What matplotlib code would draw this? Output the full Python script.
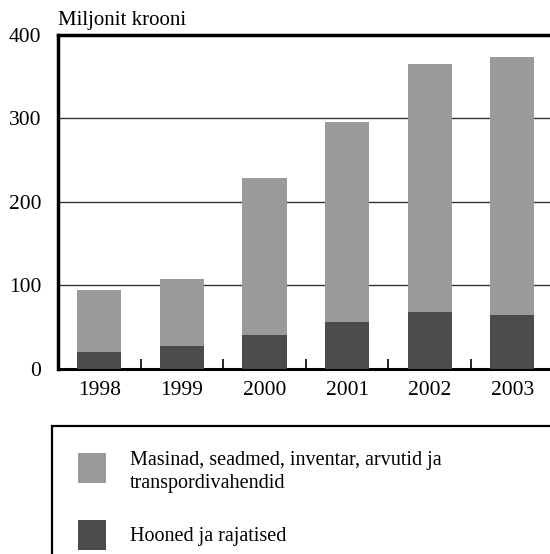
import matplotlib
matplotlib.use("Agg")
import matplotlib.pyplot as plt
from matplotlib.patches import Rectangle
import numpy as np

years = ["1998", "1999", "2000", "2001", "2002", "2003"]
buildings = [20, 27, 40, 56, 68, 64]
total = [94, 107, 229, 296, 365, 374]
machinery = [t - b for t, b in zip(total, buildings)]
series_labels = ["Masinad, seadmed, inventar, arvutid ja\ntranspordivahendid",
                 "Hooned ja rajatised"]
yticks = [0, 100, 200, 300, 400]
unit_label = "Miljonit krooni"

c_light = "#9a9a9a"
c_dark = "#4b4b4b"

plt.rcParams['font.family'] = ['Liberation Serif', 'DejaVu Serif']

fig = plt.figure(figsize=(5.5, 5.54), dpi=100)
W, H = 550, 554
ax = fig.add_axes([58 / W, 1 - 368.5 / H, 495.6 / W, 333.5 / H])

x = np.arange(len(years))
bw = 0.533
ax.bar(x, buildings, width=bw, color=c_dark, zorder=3)
ax.bar(x, machinery, bottom=buildings, width=bw, color=c_light, zorder=3)

ax.set_xlim(-0.5, len(years) - 0.5)
ax.set_ylim(0, 400)
ax.set_yticks(yticks)
ax.set_yticklabels([str(v) for v in yticks], fontsize=15.5)
ax.tick_params(axis='y', length=0, pad=12)
ax.set_xticks(x)
ax.set_xticklabels(years, fontsize=15.5)
ax.tick_params(axis='x', which='major', length=0, pad=9)
ax.set_xticks(np.arange(0.5, len(years) - 0.5, 1), minor=True)
ax.tick_params(axis='x', which='minor', direction='in', length=7, width=1.2, color='black')

for v in yticks[1:-1]:
    ax.axhline(v, color='#333333', lw=1.0, zorder=1)

ax.spines['right'].set_visible(False)
ax.spines['left'].set_linewidth(2.5)
ax.spines['bottom'].set_linewidth(2.2)
ax.spines['top'].set_linewidth(2.5)
ax.spines['top'].set_zorder(4)

fig.text(58 / W, 1 - 20 / H, unit_label, fontsize=15, ha='left', va='center')

# legend box
fig.patches.append(Rectangle((52 / W, -0.05), 1.0, 1 - 426 / H + 0.05,
                             transform=fig.transFigure, fill=False,
                             edgecolor='black', lw=1.6, clip_on=False))
colors = [c_light, c_dark]
patch_tops = [453, 520]
text_y = [472, 536]
for lab, col, pt, ty in zip(series_labels, colors, patch_tops, text_y):
    fig.patches.append(Rectangle((78 / W, 1 - (pt + 30) / H), 28 / W, 30 / H,
                                 transform=fig.transFigure, facecolor=col,
                                 edgecolor='none'))
    fig.text(130 / W, 1 - ty / H, lab, fontsize=14.5, ha='left', va='center',
             linespacing=1.35)

fig.savefig("out.png", dpi=100)
